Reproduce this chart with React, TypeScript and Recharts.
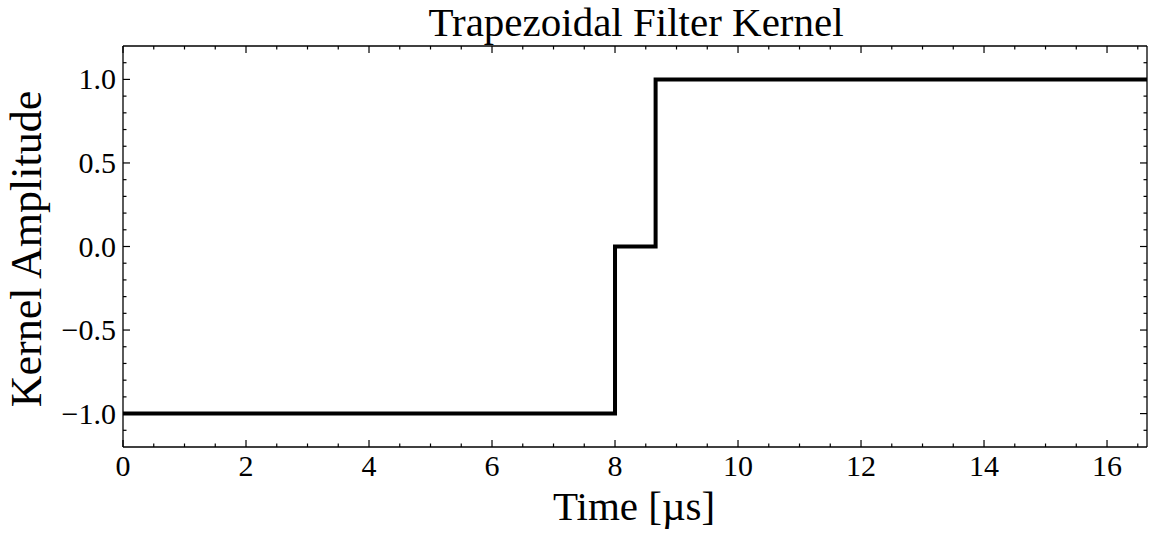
import { LineChart, Line, XAxis, YAxis } from 'recharts'

// step kernel: time [µs] vs amplitude
const TIMES = [0, 8, 8.66, 16.65]
const AMPLITUDES = [-1, 0, 1, 1]

const X_DOMAIN: [number, number] = [0, 16.65]
const Y_DOMAIN: [number, number] = [-1.2, 1.2]

const X_MAJOR = [0, 2, 4, 6, 8, 10, 12, 14, 16]
const X_MINOR = [
  0.5, 1, 1.5, 2.5, 3, 3.5, 4.5, 5, 5.5, 6.5, 7, 7.5, 8.5, 9, 9.5,
  10.5, 11, 11.5, 12.5, 13, 13.5, 14.5, 15, 15.5, 16.5,
]
const Y_MAJOR = [-1, -0.5, 0, 0.5, 1]
const Y_MAJOR_LABELS = ['−1.0', '−0.5', '0.0', '0.5', '1.0']
const Y_MINOR = [
  -1.1, -0.9, -0.8, -0.7, -0.6, -0.4, -0.3, -0.2, -0.1,
  0.1, 0.2, 0.3, 0.4, 0.6, 0.7, 0.8, 0.9, 1.1,
]

const TITLE = 'Trapezoidal Filter Kernel'
const X_LABEL = 'Time [µs]'
const Y_LABEL = 'Kernel Amplitude'

const data = TIMES.map((t, i) => ({ t, v: AMPLITUDES[i] }))
const xTicks = [...X_MAJOR, ...X_MINOR].sort((a, b) => a - b)
const yTicks = [...Y_MAJOR, ...Y_MINOR].sort((a, b) => a - b)

const FONT = '"Liberation Serif", "DejaVu Serif", serif'
const MAJOR_LEN = 7
const MINOR_LEN = 3.5
const TICK_COLOR = '#000'

const isMajor = (list: number[], v: number) => list.some(m => Math.abs(m - v) < 1e-9)

function BottomTick(props: any) {
  const { x, y, payload } = props
  const major = isMajor(X_MAJOR, payload.value)
  const len = major ? MAJOR_LEN : MINOR_LEN
  return (
    <g>
      <line x1={x} x2={x} y1={y} y2={y - len} stroke={TICK_COLOR} strokeWidth={1.2} />
      {major && (
        <text x={x} y={y + 29} textAnchor="middle" fontSize={30} fontFamily={FONT} fill="#000">
          {payload.value}
        </text>
      )}
    </g>
  )
}

function TopTick(props: any) {
  const { x, y, payload } = props
  const len = isMajor(X_MAJOR, payload.value) ? MAJOR_LEN : MINOR_LEN
  return <line x1={x} x2={x} y1={y} y2={y + len} stroke={TICK_COLOR} strokeWidth={1.2} />
}

function LeftTick(props: any) {
  const { x, y, payload } = props
  const idx = Y_MAJOR.findIndex(m => Math.abs(m - payload.value) < 1e-9)
  const len = idx >= 0 ? MAJOR_LEN : MINOR_LEN
  return (
    <g>
      <line x1={x} x2={x + len} y1={y} y2={y} stroke={TICK_COLOR} strokeWidth={1.2} />
      {idx >= 0 && (
        <text x={x - 7} y={y + 10} textAnchor="end" fontSize={30} fontFamily={FONT} fill="#000">
          {Y_MAJOR_LABELS[idx]}
        </text>
      )}
    </g>
  )
}

function RightTick(props: any) {
  const { x, y, payload } = props
  const len = isMajor(Y_MAJOR, payload.value) ? MAJOR_LEN : MINOR_LEN
  return <line x1={x} x2={x - len} y1={y} y2={y} stroke={TICK_COLOR} strokeWidth={1.2} />
}

const axisLine = { stroke: '#000', strokeWidth: 1.3 }

export default function App() {
  return (
    <div style={{ position: 'absolute', left: 0, top: 0, width: 1153, height: 533, background: '#fff' }}>
      <LineChart width={1153} height={533} data={data} margin={{ top: 45, right: 5, bottom: 0, left: 0 }}>
        <XAxis
          dataKey="t"
          type="number"
          domain={X_DOMAIN}
          allowDataOverflow
          ticks={xTicks}
          interval={0}
          height={86}
          tickSize={0}
          tickMargin={0}
          tick={BottomTick}
          axisLine={axisLine}
        />
        <XAxis
          xAxisId="top"
          orientation="top"
          dataKey="t"
          type="number"
          domain={X_DOMAIN}
          allowDataOverflow
          ticks={xTicks}
          interval={0}
          height={1}
          tickSize={0}
          tickMargin={0}
          tick={TopTick}
          axisLine={axisLine}
        />
        <YAxis
          type="number"
          domain={Y_DOMAIN}
          allowDataOverflow
          ticks={yTicks}
          interval={0}
          width={123}
          tickSize={0}
          tickMargin={0}
          tick={LeftTick}
          axisLine={axisLine}
        />
        <YAxis
          yAxisId="right"
          orientation="right"
          type="number"
          domain={Y_DOMAIN}
          allowDataOverflow
          ticks={yTicks}
          interval={0}
          width={1}
          tickSize={0}
          tickMargin={0}
          tick={RightTick}
          axisLine={axisLine}
        />
        {/* hidden twin so the mirrored top/right axes get a domain */}
        <Line
          xAxisId="top"
          yAxisId="right"
          type="stepAfter"
          dataKey="v"
          stroke="none"
          dot={false}
          activeDot={false}
          isAnimationActive={false}
        />
        <Line
          type="stepAfter"
          dataKey="v"
          stroke="#000"
          strokeWidth={4}
          strokeLinejoin="miter"
          dot={false}
          activeDot={false}
          isAnimationActive={false}
        />
      </LineChart>
      <svg
        width={1153}
        height={533}
        style={{ position: 'absolute', left: 0, top: 0, pointerEvents: 'none' }}
      >
        <text x={636} y={36} textAnchor="middle" fontSize={41} fontFamily={FONT} fill="#000">
          {TITLE}
        </text>
        <text x={634} y={520} textAnchor="middle" fontSize={41} fontFamily={FONT} fill="#000">
          {X_LABEL}
        </text>
        <text
          transform="translate(41,249) rotate(-90)"
          textAnchor="middle"
          fontSize={44}
          fontFamily={FONT}
          fill="#000"
        >
          {Y_LABEL}
        </text>
      </svg>
    </div>
  )
}
